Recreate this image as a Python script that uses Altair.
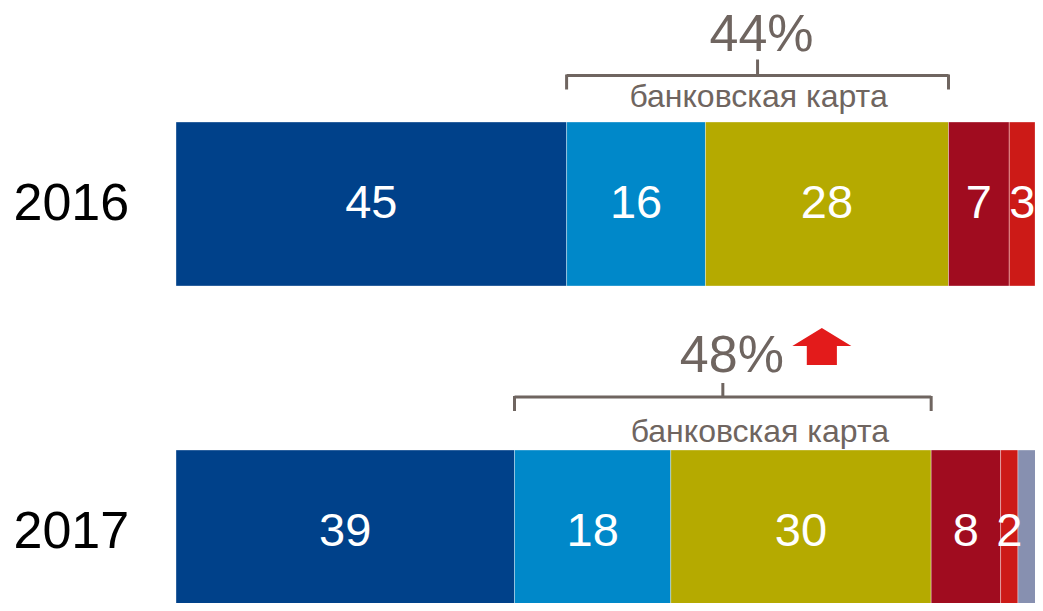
import altair as alt
import pandas as pd

# ---------------- data ----------------
years = ["2016", "2017"]
categories = ["наличные", "дебетовая карта", "кредитная карта",
              "электронные деньги", "мобильный платёж", "другое"]
values_2016 = [45, 16, 28, 7, 3, 1]
values_2017 = [39, 18, 30, 8, 2, 3]
colors = ["#00418A", "#0088C9", "#B5AA00", "#A00C1F", "#CC1A17", "#8790B0"]
labelled = [True, True, True, True, True, False]
card_categories = ["дебетовая карта", "кредитная карта"]
card_label = "банковская карта"
up_arrow_years = ["2017"]

# ---------------- tables ----------------
rows = []
for yr, vals in zip(years, [values_2016, values_2017]):
    cum = 0
    for i, (cat, v) in enumerate(zip(categories, vals)):
        rows.append(dict(year=yr, category=cat, order=i, value=v,
                         start=cum, end=cum + v,
                         label=str(v) if labelled[i] else ""))
        cum += v
df = pd.DataFrame(rows)

br = []
for yr in years:
    sub = df[(df.year == yr) & (df.category.isin(card_categories))]
    s, e = sub.start.min(), sub.end.max()
    br.append(dict(year=yr, start=s, end=e, mid=(s + e) / 2,
                   pct=f"{int(sub.value.sum())}%", caption=card_label))
bdf = pd.DataFrame(br)

# ---------------- layout ----------------
W, H = 1027, 595
FONT = "Liberation Sans"
GREY = "#6F6560"
xscale = alt.Scale(domain=[0, 100], range=[168, 1036])
band_top, step, bw = 114, 328, 164
yscale = alt.Scale(domain=years, range=[band_top, band_top + step + bw],
                   paddingInner=0.5, paddingOuter=0)

YAX = alt.Axis(title=None, domain=False, ticks=False, tickSize=0, grid=False,
               labelAlign="left", labelPadding=-5, labelFontSize=52,
               labelFont=FONT, labelColor="black", labelBaseline="middle")

def Yb(pos=0.5):
    return alt.Y("year:N", scale=yscale, bandPosition=pos, axis=YAX, sort=years)

def Xf(f):
    return alt.X(f"{f}:Q", scale=xscale, axis=None)

base = alt.Chart(df)

bars = base.mark_bar(clip=True, stroke="white", strokeWidth=1, strokeOpacity=0.35).encode(
    x=Xf("start"),
    x2="end:Q",
    y=alt.Y("year:N", scale=yscale, sort=years, axis=YAX),
    color=alt.Color("category:N", scale=alt.Scale(domain=categories, range=colors), legend=None),
    order=alt.Order("order:Q"),
)

vlabels = base.transform_filter("datum.label != ''").transform_calculate(
    mid="(datum.start + datum.end) / 2"
).mark_text(fontSize=47, font=FONT, color="white", align="center", baseline="middle").encode(
    x=Xf("mid"),
    y=Yb(0.5),
    text="label:N",
)

layers = [bars, vlabels]

offs = {
    "2016": dict(line=-46.5, pct=-71, pct_dx=4, cap=-15, cap_dx=1, up=17, down=15,
                 arrow_dx=0),
    "2017": dict(line=-53, pct=-78, pct_dx=9, cap=-8, cap_dx=37, up=15, down=15,
                 arrow_dx=99),
}
half = bw / 2   # ticks are placed from the band centre

for yr in years:
    o = offs[yr]
    b = alt.Chart(bdf).transform_filter(alt.datum.year == yr)
    line_y = o["line"]
    hline = b.mark_rule(color=GREY, strokeWidth=3, yOffset=line_y).encode(
        x=Xf("start"), x2="end:Q", y=Yb(0))
    end_off = line_y + o["down"] / 2 - 1 - half
    lt = b.mark_tick(orient="vertical", color=GREY, thickness=3, size=o["down"],
                     opacity=1, yOffset=end_off).encode(x=Xf("start"), y=Yb(0))
    rt = b.mark_tick(orient="vertical", color=GREY, thickness=3, size=o["down"],
                     opacity=1, yOffset=end_off).encode(x=Xf("end"), y=Yb(0))
    mt = b.mark_tick(orient="vertical", color=GREY, thickness=3, size=o["up"],
                     opacity=1, yOffset=line_y - o["up"] / 2 + 1 - half).encode(
        x=Xf("mid"), y=Yb(0))
    pct = b.mark_text(fontSize=52, font=FONT, color=GREY, align="center",
                      baseline="alphabetic", yOffset=o["pct"], xOffset=o["pct_dx"]).encode(
        x=Xf("mid"), y=Yb(0), text="pct:N")
    cap = b.mark_text(fontSize=32, font=FONT, color=GREY, align="center",
                      baseline="alphabetic", yOffset=o["cap"], xOffset=o["cap_dx"]).encode(
        x=Xf("mid"), y=Yb(0), text="caption:N")
    layers += [hline, lt, rt, mt, pct, cap]
    if yr in up_arrow_years:
        arrow = b.mark_point(
            shape="M 0 -0.63 L 1 -0.02 L 0.51 -0.02 L 0.51 0.63 L -0.51 0.63 L -0.51 -0.02 L -1 -0.02 Z",
            size=59 ** 2, filled=True, color="#E31B1B", opacity=1, strokeWidth=0,
            xOffset=o["arrow_dx"], yOffset=-103.5).encode(x=Xf("mid"), y=Yb(0))
        layers.append(arrow)

chart = alt.layer(*layers).properties(
    width=W, height=H, autosize=alt.AutoSizeParams(type="none"), padding=0,
    view=alt.ViewBackground(stroke="transparent", strokeWidth=0),
).configure_view(stroke="transparent", strokeWidth=0).configure(background="white")

chart.save("out.html", embed_options={"renderer": "svg", "actions": False})
